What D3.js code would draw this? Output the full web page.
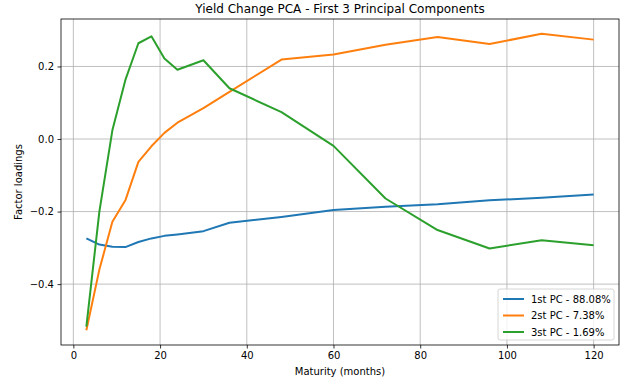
<!DOCTYPE html>
<html>
<head>
<meta charset="utf-8">
<script src="https://cdn.jsdelivr.net/npm/d3@7"></script>
<style>
  body { margin: 0; background: #fff; }
  text { font-family: "DejaVu Sans", sans-serif; fill: #000; }
</style>
</head>
<body>
<svg id="chart" width="630" height="388"></svg>
<script>
// maturities in months
let maturities = [3, 6, 9, 12, 15, 18, 21, 24, 30, 36, 48, 60, 72, 84, 96, 108, 120]
let pc1 = [-0.274, -0.291, -0.297, -0.298, -0.284, -0.274, -0.267, -0.263, -0.254, -0.231, -0.215, -0.196, -0.187, -0.180, -0.169, -0.162, -0.153]
let pc2 = [-0.527, -0.36, -0.228, -0.169, -0.063, -0.02, 0.017, 0.045, 0.085, 0.13, 0.219, 0.233, 0.26, 0.281, 0.262, 0.29, 0.274]
let pc3 = [-0.517, -0.2, 0.024, 0.163, 0.264, 0.283, 0.222, 0.191, 0.217, 0.14, 0.074, -0.019, -0.164, -0.251, -0.302, -0.279, -0.293]
let seriesNames = ['1st PC - 88.08%', '2st PC - 7.38%', '3st PC - 1.69%']
let colors = ['#1f77b4', '#ff7f0e', '#2ca02c']
let xTicks = [0, 20, 40, 60, 80, 100, 120]
let yTicks = [-0.4, -0.2, 0.0, 0.2]

let series = [pc1, pc2, pc3].map((vals, i) => ({
  name: seriesNames[i], color: colors[i],
  points: vals.map((v, j) => [maturities[j], v])
}))

let margin = {left: 61, right: 11, top: 19, bottom: 43}
let W = 630, H = 388
let svg = d3.select('#chart')

// matplotlib-like 5% padding
function padded(ext) {
  let d = (ext[1] - ext[0]) * 0.05
  return [ext[0] - d, ext[1] + d]
}
let allY = pc1.concat(pc2, pc3)
let xScale = d3.scaleLinear()
    .domain(padded(d3.extent(maturities)))
    .range([margin.left, W - margin.right])
let yScale = d3.scaleLinear()
    .domain(padded(d3.extent(allY)))
    .range([H - margin.bottom, margin.top])

// grid
let grid = svg.append('g')
grid.selectAll('line.gx').data(xTicks).enter().append('line')
    .attr('x1', d => xScale(d)).attr('x2', d => xScale(d))
    .attr('y1', margin.top).attr('y2', H - margin.bottom)
    .style('stroke', '#b0b0b0').style('stroke-width', 0.8)
grid.selectAll('line.gy').data(yTicks).enter().append('line')
    .attr('y1', d => yScale(d)).attr('y2', d => yScale(d))
    .attr('x1', margin.left).attr('x2', W - margin.right)
    .style('stroke', '#b0b0b0').style('stroke-width', 0.8)

// lines
let line = d3.line().x(d => xScale(d[0])).y(d => yScale(d[1]))
svg.append('g').selectAll('path').data(series).enter().append('path')
    .attr('d', d => line(d.points))
    .style('fill', 'none')
    .style('stroke', d => d.color)
    .style('stroke-width', 2)
    .style('stroke-linejoin', 'round')

// axes
let fmt = d => d3.format('.1f')(d).replace('-', '\u2212')
let xAxis = svg.append('g')
   .attr('transform', `translate(0, ${H - margin.bottom})`)
   .call(d3.axisBottom(xScale).tickValues(xTicks).tickSize(3.5).tickPadding(3.5))
let yAxis = svg.append('g')
   .attr('transform', `translate(${margin.left}, 0)`)
   .call(d3.axisLeft(yScale).tickValues(yTicks).tickFormat(fmt).tickSize(3.5).tickPadding(3.5))
;[xAxis, yAxis].forEach(a => {
  a.select('.domain').remove()
  a.selectAll('text').style('font-size', '10px').style('font-family', '"DejaVu Sans", sans-serif')
  a.selectAll('line').style('stroke', '#000').style('stroke-width', 0.8)
})

// frame
svg.append('rect')
   .attr('x', margin.left).attr('y', margin.top)
   .attr('width', W - margin.left - margin.right)
   .attr('height', H - margin.top - margin.bottom)
   .style('fill', 'none').style('stroke', '#000').style('stroke-width', 0.8)

// titles
svg.append('text')
   .attr('x', (margin.left + W - margin.right) / 2).attr('y', 13)
   .style('text-anchor', 'middle').style('font-size', '12px')
   .text('Yield Change PCA - First 3 Principal Components')
svg.append('text')
   .attr('x', (margin.left + W - margin.right) / 2).attr('y', 375)
   .style('text-anchor', 'middle').style('font-size', '10px')
   .text('Maturity (months)')
svg.append('text')
   .attr('transform', `translate(22, ${(margin.top + H - margin.bottom) / 2}) rotate(270)`)
   .style('text-anchor', 'middle').style('font-size', '10px')
   .text('Factor loadings')

// legend
let lg = svg.append('g').attr('transform', 'translate(498, 289)')
lg.append('rect')
   .attr('width', 116).attr('height', 51).attr('rx', 2)
   .style('fill', '#fff').style('fill-opacity', 0.8)
   .style('stroke', '#cccccc').style('stroke-width', 0.8)
let items = lg.selectAll('g.item').data(series).enter().append('g')
   .attr('transform', (d, i) => `translate(0, ${10 + i * 16.5})`)
items.append('line')
   .attr('x1', 5).attr('x2', 26).attr('y1', 0).attr('y2', 0)
   .style('stroke', d => d.color).style('stroke-width', 2)
items.append('text')
   .attr('x', 33).attr('y', 3.5)
   .style('font-size', '10px')
   .text(d => d.name)
</script>
</body>
</html>
